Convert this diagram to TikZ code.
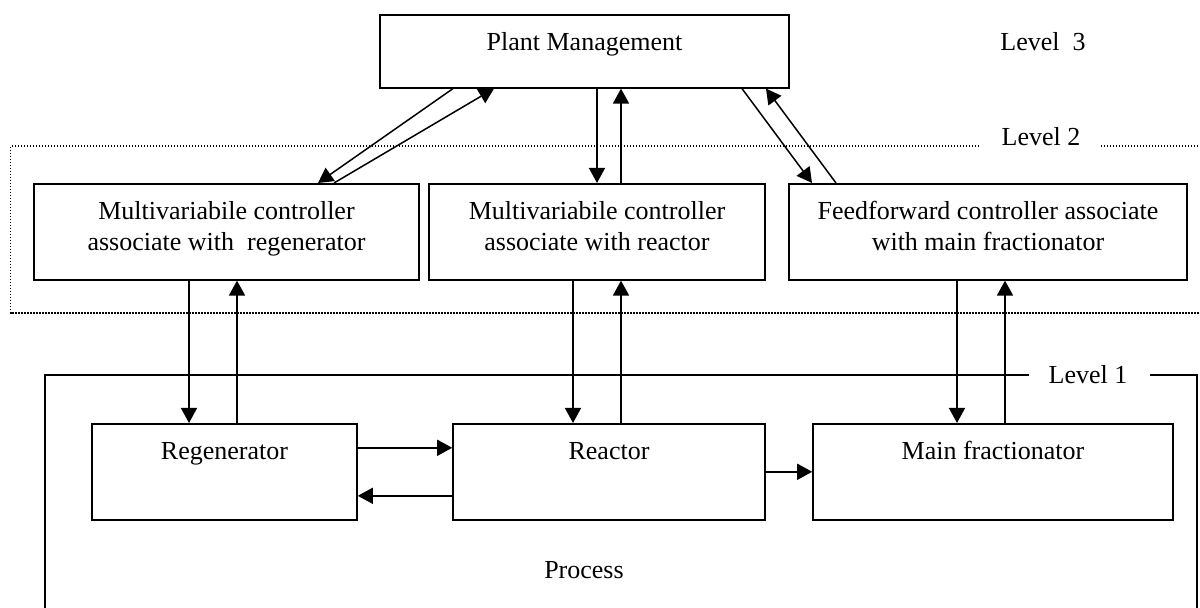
\documentclass[tikz,border=0pt]{standalone}
\usepackage{fontspec}
\setmainfont{Liberation Serif}
\usetikzlibrary{arrows.meta,calc}

\tikzset{
  blockbox/.style={draw, line width=0.8pt, anchor=north, inner ysep=0pt, text height=18pt, text depth=30pt, align=center},
  twoline/.style={text height=33.6pt, text depth=14.4pt},
  sigarrow/.style={-{Triangle[length=7.5pt,width=8pt]}, line width=0.75pt},
  levelframe/.style={line width=0.8pt},
  dotframe/.style={line width=0.7pt, dash pattern=on 0.7pt off 0.8pt}
}

\begin{document}
\begin{tikzpicture}[x=0.5pt, y=-0.5pt, font=\fontsize{13pt}{15.8pt}\selectfont]
	%%%%% START %%%%%
	\useasboundingbox (0,0) rectangle (1200,608);
	
	% level 3
	\node[blockbox, minimum width=204.5pt, text depth=18.5pt] (plant) at (584.5,14) {Plant Management};
	\node (lvthree) at (1043,42) {Level\ \ 3};
	
	% level 2
	\node[blockbox, twoline, minimum width=192.5pt] (mvregen) at (226.5,183) {Multivariabile controller\\associate with\ \ regenerator};
	\node[blockbox, twoline, minimum width=168pt] (mvreact) at (597,183) {Multivariabile controller\\associate with reactor};
	\node[blockbox, twoline, minimum width=199pt] (ffmain) at (988,183) {Feedforward controller associate\\with main fractionator};
	\node (lvtwo) at (1041,137) {Level 2};
	\draw[dotframe] (979,146) -- (10.7,146) -- (10.7,313) -- (1200,313);
	\draw[dotframe] (1101,146) -- (1200,146);
	
	% level 1
	\node[blockbox, minimum width=132.5pt] (regen) at (224.5,423) {Regenerator};
	\node[blockbox, minimum width=156pt] (reactor) at (609,423) {Reactor};
	\node[blockbox, minimum width=180pt] (mainfrac) at (993,423) {Main fractionator};
	\node (lvone) at (1088,375) {Level 1};
	\node (process) at (584,570) {Process};
	\draw[levelframe] (1029,375) -- (45,375) -- (45,608);
	\draw[levelframe] (1150,375) -- (1197,375) -- (1197,608);
	
	% plant management <-> controllers
	\draw[sigarrow] ($(plant.south)+(-131.5,0)$) -- ($(mvregen.north)+(91.5,0)$);
	\draw[sigarrow] ($(mvregen.north)+(107.5,0)$) -- ($(plant.south)+(-90.5,0)$);
	\draw[sigarrow] (plant.south -| mvreact.north) -- (mvreact.north);
	\draw[sigarrow] ($(mvreact.north)+(24,0)$) coordinate (up2) -- (up2 |- plant.south);
	\draw[sigarrow] ($(plant.south)+(157.5,0)$) -- ($(ffmain.north)+(-176,0)$);
	\draw[sigarrow] ($(ffmain.north)+(-152,0)$) -- ($(plant.south)+(181.5,0)$);
	
	% controllers <-> process units
	\draw[sigarrow] ($(mvregen.south)+(-37.5,0)$) coordinate (dn1) -- (dn1 |- regen.north);
	\draw[sigarrow] ($(regen.north)+(12.5,0)$) coordinate (up1) -- (up1 |- mvregen.south);
	\draw[sigarrow] ($(mvreact.south)+(-24,0)$) coordinate (dn3) -- (dn3 |- reactor.north);
	\draw[sigarrow] ($(reactor.north)+(12,0)$) coordinate (up3) -- (up3 |- mvreact.south);
	\draw[sigarrow] ($(ffmain.south)+(-31,0)$) coordinate (dn4) -- (dn4 |- mainfrac.north);
	\draw[sigarrow] ($(mainfrac.north)+(12,0)$) coordinate (up4) -- (up4 |- ffmain.south);
	
	% between process units
	\draw[sigarrow] ($(regen.east)+(0,-24)$) coordinate (fw1) -- (fw1 -| reactor.west);
	\draw[sigarrow] ($(reactor.west)+(0,24)$) coordinate (bw1) -- (bw1 -| regen.east);
	\draw[sigarrow] (reactor.east) -- (mainfrac.west);
	
	%%%%% END %%%%%
\end{tikzpicture}
\end{document}
